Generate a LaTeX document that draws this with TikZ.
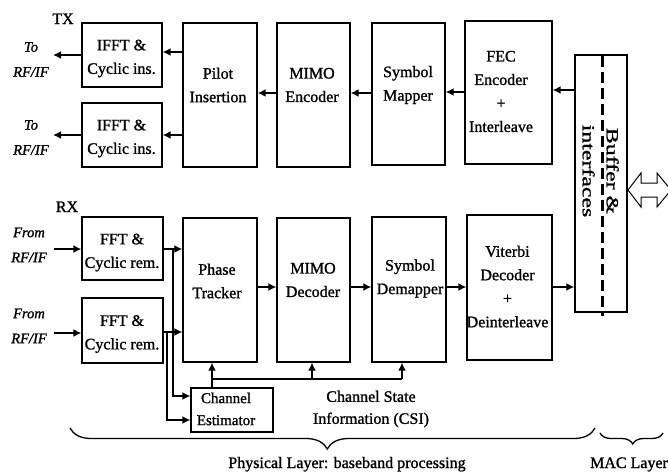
\documentclass[tikz,border=0pt]{standalone}
\usepackage{fontspec}
\usepackage{graphicx}
\setmainfont{Liberation Serif}[RawFeature={embolden=1.2}]
\usetikzlibrary{arrows.meta,decorations.pathreplacing}
\begin{document}
\begin{tikzpicture}[x=1pt,y=-1pt,
  blk/.style={draw, line width=1.3pt, inner sep=0pt},
  txt/.style={align=center, inner sep=0pt, font=\fontsize{16}{23.5}\selectfont},
  smalltxt/.style={align=center, inner sep=0pt, font=\fontsize{15}{22}\selectfont},
  lbl/.style={align=center, inner sep=0pt, font=\fontsize{14.5}{25}\selectfont\itshape},
  arr/.style={line width=1.6pt, -{Latex[length=8pt,width=8pt]}},
  ln/.style={line width=1.6pt},
  bracestyle/.style={line width=1.3pt, decorate}]
\useasboundingbox (0,0) rectangle (668,474);
\fill[white] (0,0) rectangle (668,474);

% ---------- TX boxes ----------
\node[blk, minimum width=80pt, minimum height=64pt] (ifft1) at (122,55) {};
\node[blk, minimum width=80pt, minimum height=64pt] (ifft2) at (122,135) {};
\node[blk, minimum width=74pt, minimum height=144pt] (pilot) at (220,95) {};
\node[blk, minimum width=73pt, minimum height=144pt] (menc) at (313.5,95) {};
\node[blk, minimum width=73pt, minimum height=142pt] (smap) at (408.5,94) {};
\node[blk, minimum width=87pt, minimum height=143pt] (fec) at (508.5,92.5) {};
\node[blk, minimum width=52pt, minimum height=257pt] (buf) at (601,183.5) {};

% ---------- RX boxes ----------
\node[blk, minimum width=81pt, minimum height=63pt] (fft1) at (122.5,248.5) {};
\node[blk, minimum width=81pt, minimum height=65pt] (fft2) at (122.5,330.5) {};
\node[blk, minimum width=74pt, minimum height=144pt] (phase) at (220,290) {};
\node[blk, minimum width=73pt, minimum height=144pt] (mdec) at (313.5,290) {};
\node[blk, minimum width=74pt, minimum height=145pt] (sdem) at (409,289.5) {};
\node[blk, minimum width=85pt, minimum height=145pt] (vit) at (509.5,287.5) {};
\node[blk, minimum width=82pt, minimum height=44pt] (chest) at (232,410) {};

% ---------- box texts ----------
\node[txt] (ifft1t) at (121.5,58.5) {IFFT \&\\Cyclic ins.};
\node[txt] (ifft2t) at (121.5,138.5) {IFFT \&\\Cyclic ins.};
\node[txt] (pilott) at (218,85) {Pilot\\Insertion};
\node[txt] (menct) at (312,85) {MIMO\\Encoder};
\node[txt] (smapt) at (408,85) {Symbol\\Mapper};
\node[txt] (fect) at (501,91.5) {FEC\\Encoder\\+\\Interleave};
\node[txt] (fft1t) at (122,252.5) {FFT \&\\Cyclic rem.};
\node[txt] (fft2t) at (122,334) {FFT \&\\Cyclic rem.};
\node[txt] (phaset) at (217,281) {Phase\\Tracker};
\node[txt] (mdect) at (313,280) {MIMO\\Decoder};
\node[txt] (sdemt) at (410,278.5) {Symbol\\Demapper};
\node[txt] (vitt) at (507.5,286.5) {Viterbi\\Decoder\\+\\Deinterleave};
\node[smalltxt] (chestt) at (226,409) {Channel\\Estimator};
\node[smalltxt, font=\fontsize{16}{22}\selectfont] (csit) at (371,409) {Channel State\\Information (CSI)};

\node[txt, anchor=base] (tx) at (63,24) {TX};
\node[txt, anchor=base] (rx) at (67,212) {RX};

\node[inner sep=0pt, rotate=-90, font=\fontsize{17}{24}\selectfont] (buft) at (599.5,171)
  {\scalebox{1.4}[1]{\begin{tabular}{@{}c@{}}Buffer \&\\interfaces\end{tabular}}};

% ---------- side labels ----------
\node[lbl] (to1t) at (31,59.5) {To\\RF/IF};
\node[lbl] (to2t) at (31,137.5) {To\\RF/IF};
\node[lbl] (fr1t) at (29,245) {From\\RF/IF};
\node[lbl] (fr2t) at (29,326) {From\\RF/IF};

\coordinate (to1) at (53,55);
\coordinate (to2) at (53,135);
\coordinate (fr1) at (54,249);
\coordinate (fr2) at (54,333);

% ---------- TX arrows ----------
\draw[arr] (ifft1.west |- to1) -- (to1);
\draw[arr] (ifft2.west |- to2) -- (to2);
\draw[arr] (pilot.west |- 0,52) -- (ifft1.east |- 0,52);
\draw[arr] (pilot.west |- 0,135) -- (ifft2.east |- 0,135);
\draw[arr] (menc.west |- 0,93) -- (pilot.east |- 0,93);
\draw[arr] (smap.west |- 0,93) -- (menc.east |- 0,93);
\draw[arr] (fec.west |- 0,92) -- (smap.east |- 0,92);
\draw[arr] (buf.west |- 0,90) -- (fec.east |- 0,90);

% ---------- RX arrows ----------
\draw[arr] (fr1) -- (fft1.west |- fr1);
\draw[arr] (fr2) -- (fft2.west |- fr2);
\draw[arr] (fft1.east |- 0,249) -- (phase.west |- 0,249);
\draw[arr] (fft2.east |- 0,332) -- (phase.west |- 0,332);
\draw[arr] (phase.east |- 0,287) -- (mdec.west |- 0,287);
\draw[arr] (mdec.east |- 0,287) -- (sdem.west |- 0,287);
\draw[arr] (sdem.east |- 0,287) -- (vit.west |- 0,287);
\draw[arr] (vit.east |- 0,287) -- (buf.west |- 0,287);

% branches to channel estimator
\coordinate (b1) at (173,249);
\coordinate (b2) at (167,332);
\draw[arr] (b1) |- (chest.west |- 0,396);
\draw[arr] (b2) |- (chest.west |- 0,420);

% CSI distribution
\coordinate (ce) at (212,379);
\coordinate (cm) at (312,379);
\coordinate (cs) at (402,379);
\draw[ln] (chest.north -| ce) -- (ce) -- (cs);
\draw[arr] (ce) -- (phase.south -| ce);
\draw[arr] (cm) -- (mdec.south -| cm);
\draw[arr] (cs) -- (sdem.south -| cs);

% ---------- buffer dashed line ----------
\draw[line width=3pt, dash pattern=on 11pt off 5pt] (602,56) -- (602,316);

% ---------- double arrow ----------
\begin{scope}
\clip (0,0) rectangle (668,474);
\draw[line width=1pt, fill=white] (628,190) -- (641,173) -- (641,183) -- (657,183) -- (657,173)
  -- (671,190) -- (657,207) -- (657,197) -- (641,197) -- (641,207) -- cycle;
\end{scope}

% ---------- braces ----------
\coordinate (pb1) at (70,428);
\coordinate (pb2) at (595,428);
\coordinate (mb1) at (600,433);
\coordinate (mb2) at (663,433);
\draw[bracestyle, decoration={brace, mirror, amplitude=21pt, aspect=0.49}] (pb1) -- (pb2);
\draw[bracestyle, decoration={brace, mirror, amplitude=11pt, aspect=0.52}] (mb1) -- (mb2);
\node[txt, anchor=base] (phyt) at (347,468) {Physical Layer: baseband processing};
\node[txt, anchor=base] (mact) at (629,468) {MAC Layer};
\end{tikzpicture}
\end{document}
